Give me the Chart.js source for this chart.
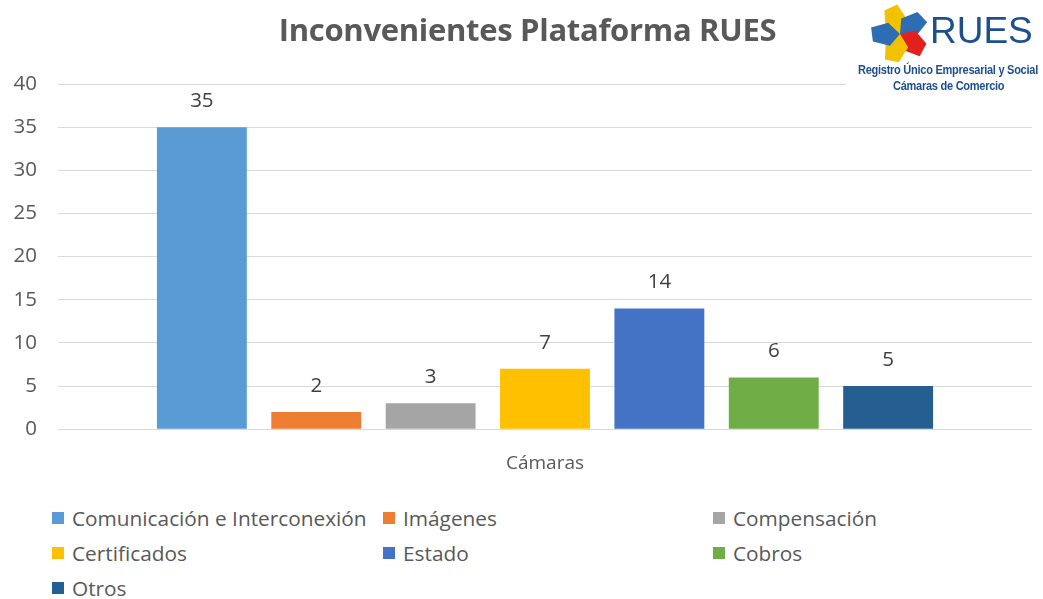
<!DOCTYPE html>
<html>
<head>
<meta charset="utf-8">
<script src="https://cdn.jsdelivr.net/npm/chart.js@4.4.0/dist/chart.umd.min.js"></script>
<style>
  body { margin: 0; background: #fff; font-family: "Open Sans", sans-serif; }
  #wrap { position: relative; width: 1043px; height: 599px; overflow: hidden; }
  #chartBox { position: absolute; left: 0; top: 0; width: 1043px; height: 490px; }
  #title { position: absolute; left: 0; width: 1055px; top: 8px; text-align: center;
    font-size: 31px; font-weight: bold; color: #595959; letter-spacing: -0.3px; }
  #logo { position: absolute; left: 846px; top: 0; width: 197px; height: 96px; background: #fff; }
  #logo canvas { position: absolute; left: 22px; top: 3px; }
  #rues { position: absolute; left: 84px; top: 10px; font: 37px "Liberation Sans", sans-serif; color: #1d4f8f; }
  .sub { position: absolute; font: bold 12px "Liberation Sans", sans-serif; color: #1d4f8f; white-space: nowrap;
    transform-origin: 0 0; transform: scaleX(0.92); letter-spacing: -0.3px; }
  #legend { position: absolute; left: 52px; top: 505px; width: 990px; display: grid;
    grid-template-columns: 331px 330px 300px; row-gap: 9px; }
  .item { display: flex; align-items: center; font-size: 20.8px; color: #595959; height: 26px; white-space: nowrap; }
  .box { width: 12px; height: 12px; margin-right: 8px; flex: none; }
</style>
</head>
<body>
<div id="wrap">
  <div id="chartBox"><canvas id="chart"></canvas></div>
  <div id="title">Inconvenientes Plataforma RUES</div>
  <div id="logo">
    <canvas id="star" width="64" height="62"></canvas>
    <div id="rues">RUES</div>
    <div class="sub" style="left:12px; top:63px;">Registro Único Empresarial y Social</div>
    <div class="sub" style="left:47px; top:79px;">Cámaras de Comercio</div>
  </div>
  <div id="legend"></div>
</div>
<script>
const categories = ['Cámaras'];
const seriesNames = ['Comunicación e Interconexión', 'Imágenes', 'Compensación', 'Certificados', 'Estado', 'Cobros', 'Otros'];
const seriesValues = [35, 2, 3, 7, 14, 6, 5];
const seriesColors = ['#5B9BD5', '#ED7D31', '#A5A5A5', '#FFC000', '#4472C4', '#70AD47', '#255E91'];
const yTicks = [0, 5, 10, 15, 20, 25, 30, 35, 40];

// small logo star
const sctx = document.getElementById('star').getContext('2d');
const petalColors = ['#f2c200', '#2c6db3', '#e3201b', '#f2c200', '#2c6db3'];
sctx.translate(32, 31);
for (let i = 0; i < 5; i++) {
    sctx.save();
    sctx.rotate(i * 2 * Math.PI / 5 - 0.3);
    sctx.fillStyle = petalColors[i];
    sctx.beginPath();
    sctx.moveTo(0, 0);
    sctx.lineTo(-12, -10);
    sctx.lineTo(-8, -27);
    sctx.lineTo(6, -29);
    sctx.lineTo(11, -12);
    sctx.closePath();
    sctx.fill();
    sctx.restore();
}

// legend
const legend = document.getElementById('legend');
seriesNames.forEach((name, i) => {
    const div = document.createElement('div');
    div.className = 'item';
    div.innerHTML = '<span class="box" style="background:' + seriesColors[i] + '"></span>' + name;
    legend.appendChild(div);
});

const valueLabels = {
    id: 'valueLabels',
    afterDatasetsDraw(chart) {
        const c = chart.ctx;
        c.save();
        c.font = '20.5px "Open Sans", sans-serif';
        c.fillStyle = '#404040';
        c.textAlign = 'center';
        c.textBaseline = 'middle';
        chart.data.datasets.forEach((ds, i) => {
            const bar = chart.getDatasetMeta(i).data[0];
            c.fillText(ds.data[0], bar.x, bar.y - 26);
        });
        c.restore();
    }
};

new Chart(document.getElementById('chart'), {
    type: 'bar',
    data: {
        labels: categories,
        datasets: seriesNames.map((name, i) => ({
            label: name,
            data: [seriesValues[i]],
            backgroundColor: seriesColors[i],
            categoryPercentage: 0.822,
            barPercentage: 0.786
        }))
    },
    options: {
        responsive: true,
        maintainAspectRatio: false,
        animation: false,
        layout: { padding: { top: 84, right: 11, bottom: 0, left: 0 } },
        plugins: { legend: { display: false }, tooltip: { enabled: false } },
        scales: {
            x: {
                grid: { display: false },
                border: { display: false },
                ticks: { color: '#595959', font: { size: 19, family: 'Open Sans' }, padding: 15 }
            },
            y: {
                min: 0,
                max: 40,
                afterBuildTicks: (s) => { s.ticks = yTicks.map(v => ({ value: v })); },
                afterFit: (s) => { s.width = 58; },
                grid: { color: '#D9D9D9', drawTicks: false },
                border: { display: false },
                ticks: { color: '#595959', font: { size: 20.5, family: 'Open Sans' }, padding: 21 }
            }
        }
    },
    plugins: [valueLabels]
});
</script>
</body>
</html>
